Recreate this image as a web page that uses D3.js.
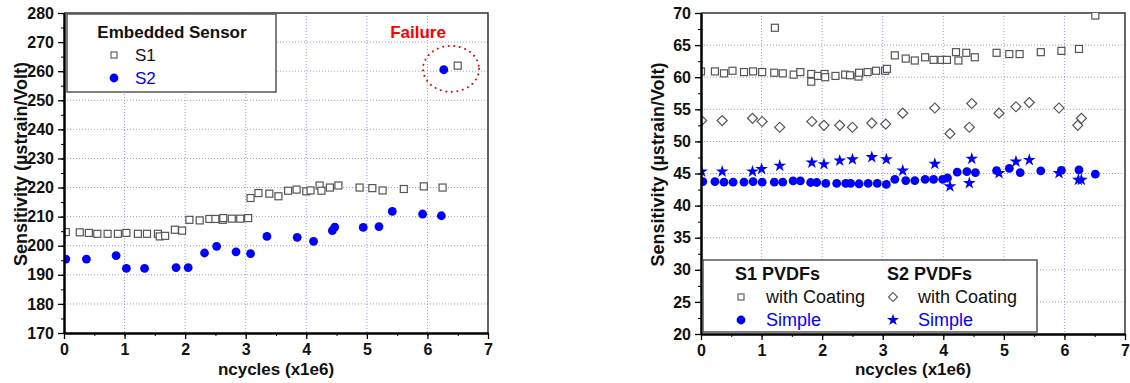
<!DOCTYPE html>
<html>
<head>
<meta charset="utf-8">
<script src="https://cdn.jsdelivr.net/npm/d3@7"></script>
<style>
  body { margin: 0; background: #fff; }
  text { font-family: Arial, "Liberation Sans", sans-serif; }
</style>
</head>
<body>
<svg id="chart"></svg>
<script>
// ---- data: left panel (embedded sensors) ----
const cycleTicks = [0, 1, 2, 3, 4, 5, 6, 7];
const embTicks = [170, 180, 190, 200, 210, 220, 230, 240, 250, 260, 270, 280];

const embS1Cycles = [0.03, 0.26, 0.41, 0.55, 0.72, 0.89, 1.03, 1.22, 1.37, 1.55, 1.58, 1.67, 1.83, 1.95,
  2.07, 2.24, 2.40, 2.50, 2.62, 2.63, 2.77, 2.91, 3.04, 3.08, 3.21, 3.39, 3.54, 3.70, 3.84,
  4.00, 4.07, 4.22, 4.25, 4.39, 4.53, 4.88, 5.09, 5.26, 5.61, 5.94, 6.25, 6.50];
const embS1Sens = [204.7, 204.6, 204.4, 204.1, 204.1, 204.1, 204.4, 204.1, 204.1, 204.1, 203.2, 203.4, 205.5, 205.2,
  208.9, 208.7, 209.2, 209.2, 208.9, 209.5, 209.3, 209.3, 209.5, 216.4, 218.1, 217.9, 217.0, 218.9, 219.3,
  218.7, 219.0, 220.7, 218.9, 220.0, 220.7, 220.0, 219.8, 219.0, 219.5, 220.4, 220.0, 261.9];

const embS2Cycles = [0.03, 0.37, 0.86, 1.03, 1.33, 1.85, 2.05, 2.32, 2.52, 2.84, 3.08, 3.35, 3.85,
  4.12, 4.43, 4.47, 4.94, 5.20, 5.42, 5.92, 6.23, 6.27];
const embS2Sens = [195.4, 195.4, 196.6, 192.2, 192.2, 192.5, 192.5, 197.5, 199.8, 197.9, 197.3, 203.2, 202.9,
  201.5, 205.2, 206.4, 206.3, 206.6, 211.8, 210.9, 210.3, 260.5];

// ---- data: right panel (PVDF sensors) ----
const pvdfTicks = [20, 25, 30, 35, 40, 45, 50, 55, 60, 65, 70];

const s1CoatCycles = [0.00, 0.23, 0.38, 0.52, 0.71, 0.86, 1.01, 1.21, 1.22, 1.35, 1.53, 1.64, 1.82, 1.82, 1.93,
  2.04, 2.05, 2.22, 2.38, 2.46, 2.60, 2.61, 2.75, 2.89, 3.04, 3.07, 3.20, 3.38, 3.53, 3.70, 3.84, 3.97,
  4.06, 4.21, 4.25, 4.38, 4.52, 4.88, 5.09, 5.26, 5.61, 5.95, 6.24, 6.51];
const s1CoatSens = [60.9, 60.9, 60.6, 61.0, 60.8, 60.9, 60.8, 60.7, 67.7, 60.6, 60.4, 60.8, 60.5, 59.3, 60.2,
  60.5, 60.0, 60.2, 60.4, 60.3, 60.1, 60.7, 60.8, 61.0, 61.0, 61.3, 63.4, 62.9, 62.6, 63.1, 62.7, 62.7,
  62.7, 63.9, 62.6, 63.8, 63.1, 63.8, 63.6, 63.6, 63.9, 64.1, 64.4, 69.6];

const s1SimpleCycles = [0.03, 0.23, 0.38, 0.53, 0.71, 0.86, 1.01, 1.21, 1.35, 1.52, 1.64, 1.81, 1.91, 2.06,
  2.24, 2.39, 2.47, 2.61, 2.76, 2.91, 3.06, 3.20, 3.38, 3.53, 3.70, 3.84, 3.99, 4.07, 4.23, 4.39, 4.53,
  4.88, 5.09, 5.27, 5.61, 5.95, 6.24, 6.51];
const s1SimpleSens = [43.75, 43.75, 43.65, 43.65, 43.65, 43.75, 43.65, 43.65, 43.65, 43.85, 43.85, 43.6, 43.6, 43.45,
  43.45, 43.45, 43.45, 43.4, 43.45, 43.45, 43.3, 44.1, 43.9, 43.9, 44.1, 44.1, 44.1, 44.3, 45.2, 45.3, 45.15,
  45.45, 45.8, 45.15, 45.4, 45.5, 45.55, 44.9];

const s2CoatCycles = [0.01, 0.35, 0.85, 1.01, 1.30, 1.83, 2.03, 2.29, 2.50, 2.82, 3.05, 3.33, 3.86,
  4.11, 4.43, 4.47, 4.92, 5.20, 5.42, 5.91, 6.22, 6.28];
const s2CoatSens = [53.25, 53.25, 53.6, 53.1, 52.2, 53.1, 52.5, 52.5, 52.2, 52.85, 52.7, 54.4, 55.2,
  51.2, 52.2, 55.9, 54.4, 55.4, 56.05, 55.2, 52.5, 53.6];

const s2SimpleCycles = [0.01, 0.35, 0.85, 1.00, 1.30, 1.83, 2.03, 2.29, 2.50, 2.82, 3.06, 3.33, 3.86,
  4.11, 4.43, 4.47, 4.92, 5.20, 5.42, 5.91, 6.23, 6.28];
const s2SimpleSens = [45.3, 45.3, 45.3, 45.7, 46.2, 46.7, 46.45, 47.0, 47.2, 47.55, 47.2, 45.45, 46.5,
  43.0, 43.5, 47.3, 45.05, 46.85, 47.1, 45.05, 44.0, 44.0];

const pts = (xs, ys) => xs.map((d, i) => ({ x: d, y: ys[i] }));

const svg = d3.select('#chart').attr('width', 1130).attr('height', 383);
svg.append('rect').attr('width', 1130).attr('height', 383).attr('fill', '#fff');

const BLUE = '#0000ff';
const GREY = '#555';

function panel(id, box, yDomain, yTicks, yMinorStep) {
  const x = d3.scaleLinear().domain([0, 7]).range([box.x0, box.x1]);
  const y = d3.scaleLinear().domain(yDomain).range([box.y1, box.y0]);
  const g = svg.append('g');

  // dotted grid
  g.selectAll('.gy').data(yTicks.slice(1, -1)).enter().append('line')
    .attr('x1', box.x0).attr('x2', box.x1)
    .attr('y1', d => y(d)).attr('y2', d => y(d))
    .attr('stroke', '#9a9af5').attr('stroke-width', 1).attr('stroke-dasharray', '1,2');
  g.selectAll('.gx').data(cycleTicks.slice(1, -1)).enter().append('line')
    .attr('y1', box.y0).attr('y2', box.y1)
    .attr('x1', d => x(d)).attr('x2', d => x(d))
    .attr('stroke', '#9a9af5').attr('stroke-width', 1).attr('stroke-dasharray', '1,2');

  svg.append('clipPath').attr('id', id)
    .append('rect').attr('x', box.x0).attr('y', box.y0)
    .attr('width', box.x1 - box.x0).attr('height', box.y1 - box.y0);
  const marks = svg.append('g').attr('clip-path', 'url(#' + id + ')');

  // frame (top / right)
  g.append('path')
    .attr('d', `M${box.x0},${box.y0}H${box.x1}V${box.y1}`)
    .attr('fill', 'none').attr('stroke', '#333').attr('stroke-width', 1.5);

  // minor ticks
  const yMinor = d3.range(yDomain[0], yDomain[1] + 0.001, yMinorStep);
  const xMinor = d3.range(0, 7.001, 0.5);
  const ax = svg.append('g');
  ax.append('g').attr('transform', `translate(${box.x0},0)`)
    .call(d3.axisLeft(y).tickValues(yMinor).tickSize(3).tickFormat('').tickSizeOuter(0));
  ax.append('g').attr('transform', `translate(0,${box.y1})`)
    .call(d3.axisBottom(x).tickValues(xMinor).tickSize(3).tickFormat('').tickSizeOuter(0));

  const ya = ax.append('g').attr('transform', `translate(${box.x0},0)`)
    .call(d3.axisLeft(y).tickValues(yTicks).tickFormat(d3.format('d'))
      .tickSize(6).tickPadding(4).tickSizeOuter(0));
  const xa = ax.append('g').attr('transform', `translate(0,${box.y1})`)
    .call(d3.axisBottom(x).tickValues(cycleTicks).tickFormat(d3.format('d'))
      .tickSize(6).tickPadding(5).tickSizeOuter(0));
  [ya, xa].forEach(a => {
    a.selectAll('line').attr('stroke-width', 1.3);
    a.selectAll('text').attr('font-size', 16).attr('font-weight', 'bold')
      .attr('font-family', 'Arial, "Liberation Sans", sans-serif').attr('fill', '#111');
  });
  ax.selectAll('path.domain').attr('stroke', '#000').attr('stroke-width', 2);
  ax.selectAll('line').attr('stroke', '#000');

  // axis titles
  svg.append('text')
    .attr('transform', `translate(${box.x0 - 37},${(box.y0 + box.y1) / 2 - 9}) rotate(-90)`)
    .attr('text-anchor', 'middle').attr('font-size', 18).attr('font-weight', 'bold').attr('fill', '#111')
    .text('Sensitivity (\u00b5strain/Volt)');
  svg.append('text')
    .attr('x', (box.x0 + box.x1) / 2).attr('y', 374.5)
    .attr('text-anchor', 'middle').attr('font-size', 17).attr('font-weight', 'bold').attr('fill', '#111')
    .text('ncycles (x1e6)');

  return { x, y, marks };
}

function drawMarks(p, data, kind) {
  const sel = p.marks.selectAll(null).data(data).enter();
  if (kind === 'circle') {
    sel.append('circle').attr('cx', d => p.x(d.x)).attr('cy', d => p.y(d.y))
      .attr('r', 4.4).attr('fill', BLUE);
  } else if (kind === 'square') {
    sel.append('rect').attr('x', d => p.x(d.x) - 3.5).attr('y', d => p.y(d.y) - 3.5)
      .attr('width', 7).attr('height', 7)
      .attr('fill', '#fff').attr('stroke', GREY).attr('stroke-width', 1.2);
  } else if (kind === 'diamond') {
    sel.append('path').attr('d', d3.symbol(d3.symbolSquare, 50)())
      .attr('transform', d => `translate(${p.x(d.x)},${p.y(d.y)}) rotate(45)`)
      .attr('fill', '#fff').attr('stroke', GREY).attr('stroke-width', 1.2);
  } else if (kind === 'star') {
    sel.append('path').attr('d', d3.symbol(d3.symbolStar, 50)())
      .attr('transform', d => `translate(${p.x(d.x)},${p.y(d.y)})`)
      .attr('fill', BLUE);
  }
}

function legendSymbol(g, kind, cx, cy) {
  if (kind === 'circle') g.append('circle').attr('cx', cx).attr('cy', cy).attr('r', 4.4).attr('fill', BLUE);
  if (kind === 'square') g.append('rect').attr('x', cx - 3).attr('y', cy - 3).attr('width', 6).attr('height', 6)
    .attr('fill', '#fff').attr('stroke', GREY).attr('stroke-width', 1.1);
  if (kind === 'diamond') g.append('path').attr('d', d3.symbol(d3.symbolSquare, 40)())
    .attr('transform', `translate(${cx},${cy}) rotate(45)`)
    .attr('fill', '#fff').attr('stroke', GREY).attr('stroke-width', 1.1);
  if (kind === 'star') g.append('path').attr('d', d3.symbol(d3.symbolStar, 45)())
    .attr('transform', `translate(${cx},${cy})`).attr('fill', BLUE);
}

// ---- left panel ----
const left = panel('clipL', { x0: 64, x1: 488, y0: 13, y1: 333 }, [170, 280], embTicks, 5);
drawMarks(left, pts(embS1Cycles, embS1Sens), 'square');
drawMarks(left, pts(embS2Cycles, embS2Sens), 'circle');

// failure annotation
svg.append('ellipse')
  .attr('cx', left.x(6.39)).attr('cy', left.y(260.8)).attr('rx', 28).attr('ry', 23)
  .attr('fill', 'none').attr('stroke', '#f00').attr('stroke-width', 2)
  .attr('stroke-dasharray', '0.1,5.5').attr('stroke-linecap', 'round');
svg.append('text').attr('x', 418).attr('y', 38).attr('text-anchor', 'middle')
  .attr('font-size', 17).attr('font-weight', 'bold').attr('fill', '#f00').text('Failure');

const legL = svg.append('g');
legL.append('rect').attr('x', 67).attr('y', 14).attr('width', 209).attr('height', 78)
  .attr('fill', '#fff').attr('stroke', '#555').attr('stroke-width', 1.5);
legL.append('text').attr('x', 172).attr('y', 38).attr('text-anchor', 'middle')
  .attr('font-size', 17).attr('font-weight', 'bold').attr('fill', '#111').text('Embedded Sensor');
legendSymbol(legL, 'square', 114, 55);
legL.append('text').attr('x', 135).attr('y', 61).attr('font-size', 17).attr('fill', '#111').text('S1');
legendSymbol(legL, 'circle', 114, 78);
legL.append('text').attr('x', 135).attr('y', 84).attr('font-size', 17).attr('fill', BLUE).text('S2');

// ---- right panel ----
const right = panel('clipR', { x0: 701, x1: 1125, y0: 13, y1: 334 }, [20, 70], pvdfTicks, 2.5);
drawMarks(right, pts(s1CoatCycles, s1CoatSens), 'square');
drawMarks(right, pts(s2CoatCycles, s2CoatSens), 'diamond');
drawMarks(right, pts(s2SimpleCycles, s2SimpleSens), 'star');
drawMarks(right, pts(s1SimpleCycles, s1SimpleSens), 'circle');

const legR = svg.append('g');
legR.append('rect').attr('x', 703).attr('y', 260).attr('width', 334).attr('height', 72)
  .attr('fill', '#fff').attr('stroke', '#555').attr('stroke-width', 1.5);
const legCols = [
  { x: 735, title: 'S1 PVDFs', coat: 'square', simple: 'circle' },
  { x: 887, title: 'S2 PVDFs', coat: 'diamond', simple: 'star' }
];
legCols.forEach(c => {
  legR.append('text').attr('x', c.x).attr('y', 280).attr('font-size', 18).attr('font-weight', 'bold')
    .attr('fill', '#111').text(c.title);
  legendSymbol(legR, c.coat, c.x + 6, 297);
  legR.append('text').attr('x', c.x + 31).attr('y', 303).attr('font-size', 18).attr('fill', '#111').text('with Coating');
  legendSymbol(legR, c.simple, c.x + 6, 320);
  legR.append('text').attr('x', c.x + 31).attr('y', 326).attr('font-size', 18).attr('fill', BLUE).text('Simple');
});
</script>
</body>
</html>
